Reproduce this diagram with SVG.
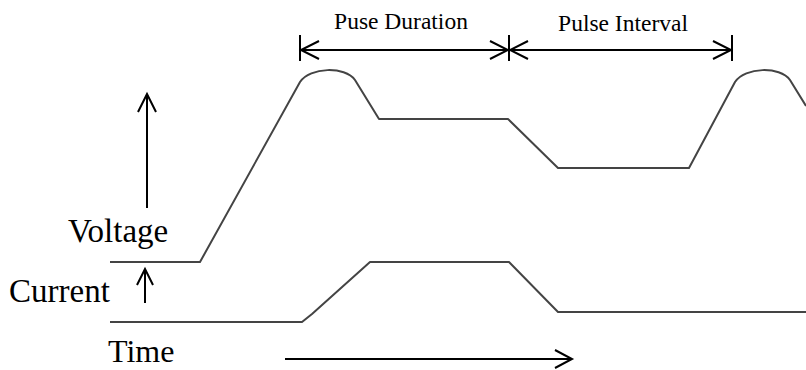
<svg xmlns="http://www.w3.org/2000/svg" width="806" height="370" viewBox="0 0 806 370">
  <style>
    .wave { fill: none; stroke: #444; stroke-width: 2; stroke-linejoin: round; }
    .axis { fill: none; stroke: #000; stroke-width: 2; }
    .head { fill: none; stroke: #000; stroke-width: 2; stroke-linejoin: miter; }
    .lbl { font-family: "Liberation Serif", "Times New Roman", serif; fill: #000; }
    .big { font-size: 33px; }
    .small { font-size: 23.5px; }
  </style>
  <rect width="806" height="370" fill="#fff"/>

  <!-- axis labels -->
  <g id="label-voltage"><text class="lbl big" x="68" y="242">Voltage</text></g>
  <g id="label-current"><text class="lbl big" x="9" y="302">Current</text></g>
  <g id="label-time"><text class="lbl" x="108" y="362" font-size="32">Time</text></g>

  <!-- waveforms -->
  <g id="voltage-wave">
    <path class="wave" d="M110 262 L200 262 L300 82 C310 67 345 66 355 80 L379 119 L508 119 L558 168 L689 168 L735 82 C745 67 780 66 790 80 L806 106"/>
  </g>
  <g id="current-wave">
    <path class="wave" d="M110 322 L302 322 L312 314 L370 262 L509 262 L558 312 L806 312"/>
  </g>

  <!-- connectors: axis arrows and dimension arrows -->
  <g id="connectors">
    <!-- voltage axis -->
    <line class="axis" x1="147" y1="208" x2="147" y2="94"/>
    <polyline class="head" points="138,112 147,94 156,112"/>
    <!-- current axis -->
    <line class="axis" x1="145" y1="303" x2="145" y2="269"/>
    <polyline class="head" points="137,285 145,269 153,285"/>
    <!-- time axis -->
    <line class="axis" x1="285" y1="359" x2="571" y2="359"/>
    <polyline class="head" points="555,350 572,359 555,368"/>

    <!-- pulse duration / interval ticks -->
    <line class="axis" x1="300" y1="35" x2="300" y2="61"/>
    <line class="axis" x1="509" y1="35" x2="509" y2="61"/>
    <line class="axis" x1="732" y1="35" x2="732" y2="61"/>
    <!-- pulse duration -->
    <line class="axis" x1="301" y1="50" x2="508" y2="50"/>
    <polyline class="head" points="319,41 301,50 319,59"/>
    <polyline class="head" points="490,41 508,50 490,59"/>
    <!-- pulse interval -->
    <line class="axis" x1="510" y1="50" x2="731" y2="50"/>
    <polyline class="head" points="528,41 510,50 528,59"/>
    <polyline class="head" points="713,41 731,50 713,59"/>
  </g>

  <g id="label-duration"><text class="lbl small" x="401" y="29" text-anchor="middle">Puse Duration</text></g>
  <g id="label-interval"><text class="lbl small" x="623" y="31" text-anchor="middle">Pulse Interval</text></g>
</svg>
